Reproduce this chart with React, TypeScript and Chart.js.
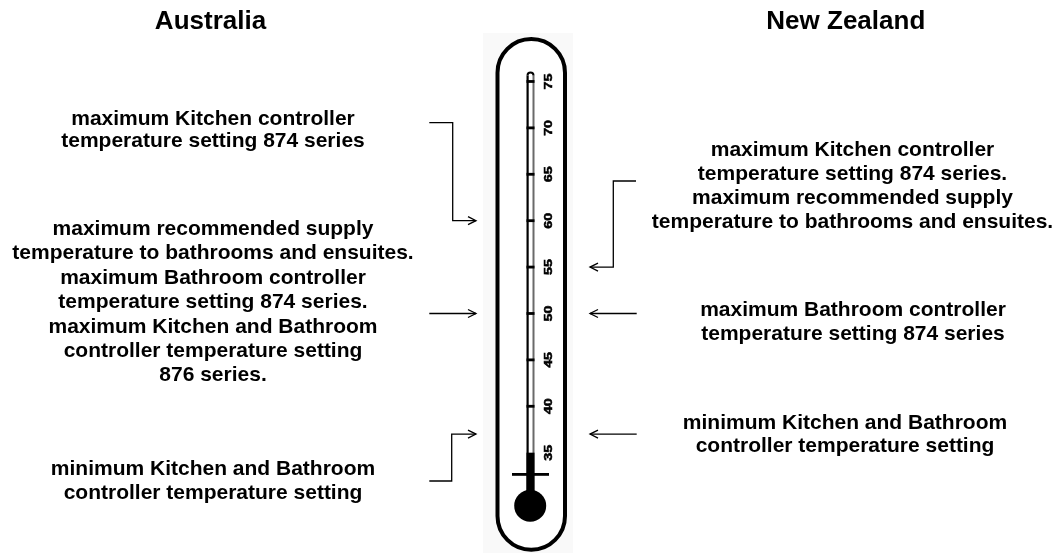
import React, { useEffect, useRef } from "react";
import { Chart, registerables } from "chart.js";

Chart.register(...registerables);

// ---------- data ----------
const TITLES = ["Australia", "New Zealand"];
const SCALE_VALUES = [35, 40, 45, 50, 55, 60, 65, 70, 75];
const SCALE_LABELS = ["35", "40", "45", "50", "55", "60", "65", "70", "75"];
const MERCURY_LEVEL = 35;
const AU_TARGETS = [60, 50, 37];
const NZ_TARGETS = [55, 50, 37];
const AU_TEXTS = [
  ["maximum Kitchen controller", "temperature setting 874 series"],
  [
    "maximum recommended supply",
    "temperature to bathrooms and ensuites.",
    "maximum Bathroom controller",
    "temperature setting 874 series.",
    "maximum Kitchen and Bathroom",
    "controller temperature setting",
    "876 series.",
  ],
  ["minimum Kitchen and Bathroom", "controller temperature setting"],
];
const NZ_TEXTS = [
  [
    "maximum Kitchen controller",
    "temperature setting 874 series.",
    "maximum recommended supply",
    "temperature to bathrooms and ensuites.",
  ],
  ["maximum Bathroom controller", "temperature setting 874 series"],
  ["minimum Kitchen and Bathroom", "controller temperature setting"],
];
const Y_MIN = 24.19;
const Y_MAX = 83.78;

// ---------- layout (pixels) ----------
const W = 1059;
const H = 553;
const FONT = '"Liberation Sans", Arial, Helvetica, sans-serif';
const AU_X = 213;
const NZ_X = [852.5, 853, 845];
const AU_BASE = [125, 235, 475];
const AU_LH = [22, 24.4, 24.3];
const NZ_BASE = [156, 316, 428.5];
const NZ_LH = [24.1, 24, 23.5];
const AU_ARROWS = [
  { sx: 429.3, sy: 122.7, ex: 452.7 },
  { sx: 429.3, sy: null, ex: null },
  { sx: 429.3, sy: 481, ex: 451.7 },
];
const AU_TIP = 476;
const NZ_ARROWS = [
  { sx: 636, sy: 181, ex: 613.3 },
  { sx: 636.7, sy: null, ex: null },
  { sx: 636.7, sy: null, ex: null },
];
const NZ_TIP = 590;

function drawArrow(
  ctx: CanvasRenderingContext2D,
  pts: [number, number][],
  dir: number
) {
  ctx.save();
  ctx.strokeStyle = "#000";
  ctx.lineWidth = 1.3;
  ctx.beginPath();
  ctx.moveTo(pts[0][0], pts[0][1]);
  for (let i = 1; i < pts.length; i++) ctx.lineTo(pts[i][0], pts[i][1]);
  ctx.stroke();
  const [tx, ty] = pts[pts.length - 1];
  ctx.beginPath();
  ctx.moveTo(tx - dir * 8, ty - 4);
  ctx.lineTo(tx, ty);
  ctx.lineTo(tx - dir * 8, ty + 4);
  ctx.stroke();
  ctx.restore();
}

const thermoPlugin = {
  id: "thermo",
  beforeDraw(chart: any) {
    const ctx = chart.ctx as CanvasRenderingContext2D;
    ctx.save();
    ctx.fillStyle = "#ffffff";
    ctx.fillRect(0, 0, chart.width, chart.height);
    ctx.fillStyle = "#f9f9f9";
    ctx.fillRect(483, 33, 90, H - 33);
    ctx.restore();
  },
  afterDraw(chart: any) {
    const ctx = chart.ctx as CanvasRenderingContext2D;
    const ys = chart.scales.y;
    const py = (v: number) => ys.getPixelForValue(v);
    ctx.save();

    // titles
    ctx.fillStyle = "#000";
    ctx.textAlign = "center";
    ctx.textBaseline = "alphabetic";
    ctx.font = `bold 26px ${FONT}`;
    ctx.fillText(TITLES[0], 210.5, 29.3);
    ctx.fillText(TITLES[1], 845.8, 29.3);

    // annotation texts
    ctx.font = `bold 21px ${FONT}`;
    AU_TEXTS.forEach((lines, i) => {
      lines.forEach((l, j) => ctx.fillText(l, AU_X, AU_BASE[i] + j * AU_LH[i]));
    });
    NZ_TEXTS.forEach((lines, i) => {
      lines.forEach((l, j) => ctx.fillText(l, NZ_X[i], NZ_BASE[i] + j * NZ_LH[i]));
    });

    // outer tube
    const cx = 531.25;
    const r = 33.75;
    const topC = 72.75;
    const botC = 516;
    ctx.strokeStyle = "#000";
    ctx.lineWidth = 4;
    ctx.fillStyle = "#ffffff";
    ctx.beginPath();
    ctx.moveTo(cx - r, topC);
    ctx.lineTo(cx - r, botC);
    ctx.arc(cx, botC, r, Math.PI, 0, true);
    ctx.lineTo(cx + r, topC);
    ctx.arc(cx, topC, r, 0, Math.PI, true);
    ctx.closePath();
    ctx.fill();
    ctx.stroke();

    // capillary
    const capL = 526.5;
    const capW = 8;
    const capTop = py(75) - 6;
    const bulbY = 505.8;
    ctx.fillStyle = "#000";
    ctx.fillRect(capL, capTop, 2.2, bulbY - capTop);
    ctx.fillStyle = "#6a6a6a";
    ctx.fillRect(capL + capW - 2, capTop, 2, bulbY - capTop);
    ctx.strokeStyle = "#000";
    ctx.lineWidth = 2;
    ctx.beginPath();
    ctx.arc(capL + capW / 2, capTop, capW / 2 - 1, Math.PI, 0);
    ctx.stroke();

    // tick marks (above mercury)
    ctx.fillStyle = "#000";
    SCALE_VALUES.forEach((v) => {
      if (v > MERCURY_LEVEL) ctx.fillRect(capL, py(v) - 1.4, capW, 2.8);
    });

    // mercury column
    const mTop = py(MERCURY_LEVEL);
    ctx.fillRect(capL, mTop, capW, bulbY - mTop);
    // cross bar
    ctx.fillRect(512, 473, 37, 2.8);
    // bulb
    ctx.beginPath();
    ctx.arc(530.2, bulbY, 16, 0, Math.PI * 2);
    ctx.fill();

    // scale labels (rotated, reading bottom to top)
    ctx.font = `bold 11px ${FONT}`;
    ctx.textAlign = "center";
    ctx.textBaseline = "middle";
    ctx.strokeStyle = "#000";
    ctx.lineWidth = 0.5;
    SCALE_VALUES.forEach((v, i) => {
      ctx.save();
      ctx.translate(548, py(v));
      ctx.rotate(-Math.PI / 2);
      ctx.scale(1.3, 1);
      ctx.fillText(SCALE_LABELS[i], 0, 0.5);
      ctx.strokeText(SCALE_LABELS[i], 0, 0.5);
      ctx.restore();
    });

    // arrows
    AU_TARGETS.forEach((t, i) => {
      const a = AU_ARROWS[i];
      const ty = py(t);
      const pts: [number, number][] =
        a.sy === null
          ? [[a.sx, ty], [AU_TIP, ty]]
          : [[a.sx, a.sy], [a.ex as number, a.sy], [a.ex as number, ty], [AU_TIP, ty]];
      drawArrow(ctx, pts, 1);
    });
    NZ_TARGETS.forEach((t, i) => {
      const a = NZ_ARROWS[i];
      const ty = py(t);
      const pts: [number, number][] =
        a.sy === null
          ? [[a.sx, ty], [NZ_TIP, ty]]
          : [[a.sx, a.sy], [a.ex as number, a.sy], [a.ex as number, ty], [NZ_TIP, ty]];
      drawArrow(ctx, pts, -1);
    });

    ctx.restore();
  },
};

export default function App() {
  const ref = useRef<HTMLCanvasElement | null>(null);
  useEffect(() => {
    document.body.style.margin = "0";
    if (!ref.current) return;
    const chart = new Chart(ref.current, {
      type: "scatter",
      data: {
        datasets: [
          {
            label: "targets",
            data: [...AU_TARGETS, ...NZ_TARGETS].map((t) => ({ x: 0.5, y: t })),
            pointRadius: 0,
            showLine: false,
          },
        ],
      },
      options: {
        responsive: false,
        maintainAspectRatio: false,
        animation: false,
        devicePixelRatio: 1,
        layout: { padding: 0 },
        events: [],
        scales: {
          x: { type: "linear", display: false, min: 0, max: 1 },
          y: { type: "linear", display: false, min: Y_MIN, max: Y_MAX },
        },
        plugins: {
          legend: { display: false },
          tooltip: { enabled: false },
        },
      },
      plugins: [thermoPlugin],
    });
    return () => chart.destroy();
  }, []);
  return (
    <div style={{ position: "absolute", left: 0, top: 0, width: W, height: H }}>
      <canvas ref={ref} width={W} height={H} style={{ display: "block", width: W, height: H }} />
    </div>
  );
}
